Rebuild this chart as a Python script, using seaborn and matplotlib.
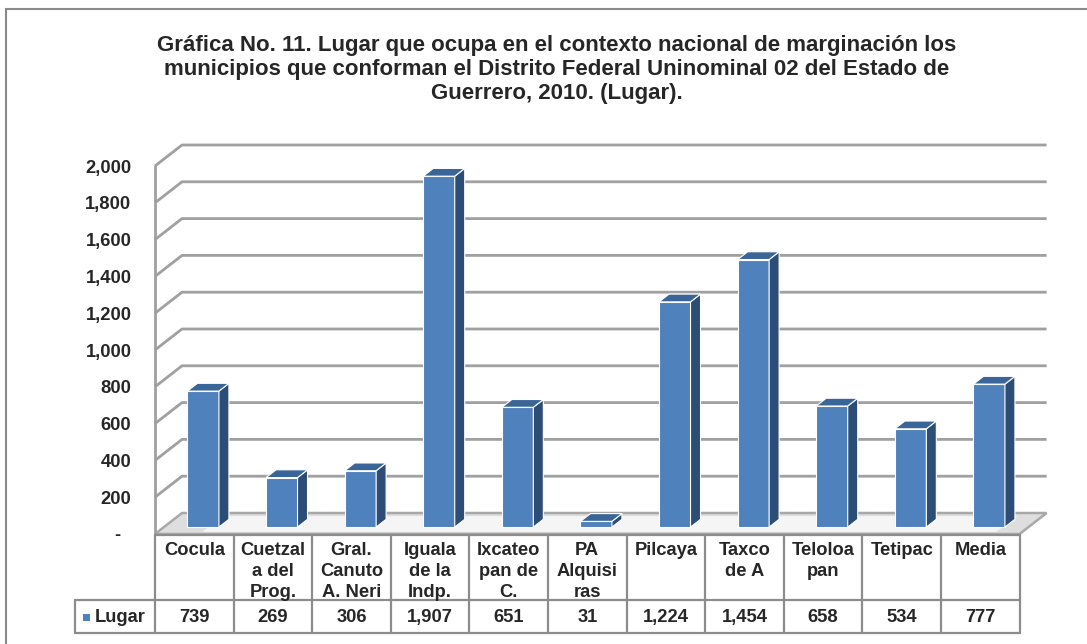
import numpy as np
import pandas as pd
import matplotlib
matplotlib.use("Agg")
import matplotlib.pyplot as plt
import seaborn as sns
from matplotlib.patches import Polygon, Rectangle
from matplotlib.transforms import blended_transform_factory

# ---- data ----
categories = ["Cocula", "Cuetzal\na del\nProg.", "Gral.\nCanuto\nA. Neri", "Iguala\nde la\nIndp.",
              "Ixcateo\npan de\nC.", "PA\nAlquisi\nras", "Pilcaya", "Taxco\nde A", "Teloloa\npan",
              "Tetipac", "Media"]
values = [739, 269, 306, 1907, 651, 31, 1224, 1454, 658, 534, 777]
value_labels = ["739", "269", "306", "1,907", "651", "31", "1,224", "1,454", "658", "534", "777"]
ytick_values = list(range(0, 2001, 200))
ytick_labels = ["-  ", "200", "400", "600", "800", "1,000", "1,200", "1,400", "1,600", "1,800", "2,000"]
series_name = "Lugar"
title = ("Gráfica No. 11. Lugar que ocupa en el contexto nacional de marginación los\n"
         "municipios que conforman el Distrito Federal Uninominal 02 del Estado de\n"
         "Guerrero, 2010. (Lugar).")

sns.set_style("white")
plt.rcParams['font.family'] = ['Liberation Sans', 'DejaVu Sans']

W, H = 1087, 644
fig = plt.figure(figsize=(W / 100, H / 100), dpi=100)
fig.patch.set_facecolor("white")

# geometry (pixels)
col_w = 78.6
x_left = 155
y_zero = 534
px_per_val = 0.184
ax = fig.add_axes([x_left / W, (H - y_zero) / H, 895 / W, 394 / H])

df = pd.DataFrame({"cat": categories, "val": values})
sns.barplot(data=df, x="cat", y="val", color="#4F81BD", saturation=1, width=0.40,
            edgecolor="white", linewidth=0.8, ax=ax, zorder=5)

ax.set_xlim(-0.5, -0.5 + 895 / col_w)
ax.set_ylim(0, 394 / px_per_val)
for s in ax.spines.values():
    s.set_visible(False)
ax.set_xticks([])
ax.set_xlabel("")
ax.set_ylabel("")
ax.set_yticks(ytick_values)
ax.set_yticklabels(ytick_labels, fontsize=13.2, fontweight="bold")
ax.tick_params(axis="y", length=0, pad=17)

DX = 27 / col_w
DY = 21 / px_per_val
n = len(categories)
x0, x1 = -0.5, n - 0.5
grid_c = "#a0a0a0"

# floor (slab with light shading)
floor = Polygon([(x0, 0), (x1, 0), (x1 + DX, DY), (x0 + DX, DY)], closed=True,
                facecolor="#dedede", edgecolor="#a8a8a8", lw=1.8, zorder=1, clip_on=False)
ax.add_patch(floor)
ax.add_patch(Polygon([(x0 + 0.6, DY * 0.1), (x1 - 0.3, DY * 0.1), (x1 - 0.3 + DX * 0.8, DY * 0.85),
                      (x0 + 0.6 + DX * 0.8, DY * 0.85)],
                     closed=True, facecolor="#f5f5f5", edgecolor="none", zorder=1.1, clip_on=False))
# walls & grid
ax.plot([x0, x0], [0, 2000], color=grid_c, lw=2, zorder=2, clip_on=False)
for v in ytick_values[1:]:
    ax.plot([x0, x0 + DX, x1 + DX], [v, v + DY, v + DY], color=grid_c, lw=2,
            zorder=2, clip_on=False, solid_capstyle="butt")

# 3D bars
f1, f2 = 0.33, 0.70
for p in list(ax.patches):
    if not isinstance(p, Rectangle) or p.get_height() <= 0:
        continue
    bx, w, h = p.get_x(), p.get_width(), p.get_height()
    p.set_x(bx + f1 * DX)
    p.set_y(f1 * DY)
    ax.add_patch(Polygon([(bx + w + f1 * DX, f1 * DY), (bx + w + f2 * DX, f2 * DY),
                          (bx + w + f2 * DX, h + f2 * DY), (bx + w + f1 * DX, h + f1 * DY)],
                         closed=True, facecolor="#2C4D75", edgecolor="white", lw=0.8, zorder=5))
    ax.add_patch(Polygon([(bx + f1 * DX, h + f1 * DY), (bx + w + f1 * DX, h + f1 * DY),
                          (bx + w + f2 * DX, h + f2 * DY), (bx + f2 * DX, h + f2 * DY)],
                         closed=True, facecolor="#3A6599", edgecolor="white", lw=0.8, zorder=5))

# ---- data table ----
tr = blended_transform_factory(ax.transData, fig.transFigure)
def fy(py):
    return (H - py) / H
t_top, t_mid, t_bot = 535, 600, 633
leg_x = (75 - x_left) / col_w - 0.5
tc = "#8c8c8c"
tlw = 1.6
for k in range(n + 1):
    ax.plot([x0 + k, x0 + k], [fy(t_top), fy(t_bot)], color=tc, lw=tlw, transform=tr, clip_on=False)
ax.plot([x0, x1], [fy(t_top), fy(t_top)], color=tc, lw=tlw, transform=tr, clip_on=False)
ax.plot([leg_x, x1], [fy(t_mid), fy(t_mid)], color=tc, lw=tlw, transform=tr, clip_on=False)
ax.plot([leg_x, x1], [fy(t_bot), fy(t_bot)], color=tc, lw=tlw, transform=tr, clip_on=False)
ax.plot([leg_x, leg_x], [fy(t_mid), fy(t_bot)], color=tc, lw=tlw, transform=tr, clip_on=False)

for i, (c, lab) in enumerate(zip(categories, value_labels)):
    ax.text(i, fy(t_top + 7), c, transform=tr, ha="center", va="top", fontsize=13.2,
            fontweight="bold", linespacing=1.3)
    ax.text(i, fy((t_mid + t_bot) / 2 + 1), lab, transform=tr, ha="center", va="center",
            fontsize=13.2, fontweight="bold")
ax.add_patch(Rectangle(((83 - x_left) / col_w - 0.5, fy(621)), 7 / col_w, 7 / H, transform=tr,
                       facecolor="#4F81BD", edgecolor="none", clip_on=False))
ax.text((95 - x_left) / col_w - 0.5, fy(617.5), series_name, transform=tr, ha="left", va="center",
        fontsize=13.2, fontweight="bold")

# title
fig.text(0.512, fy(35), title, ha="center", va="top", fontsize=16, fontweight="bold",
         linespacing=1.2)

# outer border
fig.add_artist(Rectangle((6 / W, -0.05), 1.2, (H - 9) / H + 0.05, transform=fig.transFigure,
                         facecolor="none", edgecolor="#8a8a8a", lw=1.5))

fig.savefig("out.png", dpi=100)
